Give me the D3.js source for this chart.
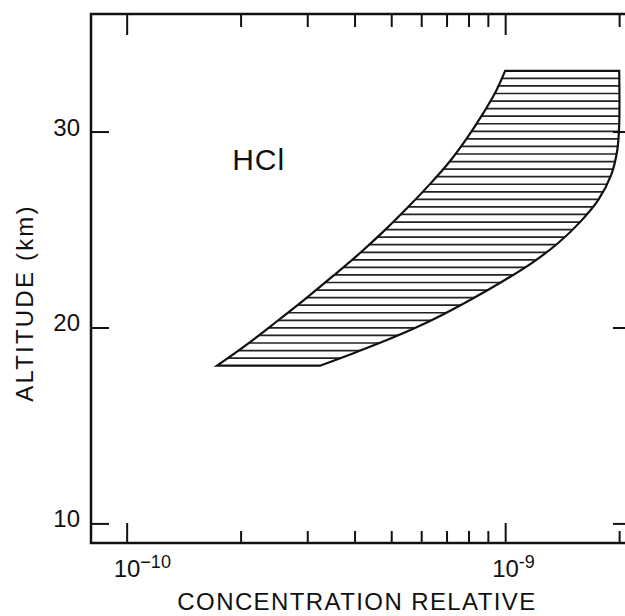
<!DOCTYPE html>
<html>
<head>
<meta charset="utf-8">
<script src="https://cdn.jsdelivr.net/npm/d3@7"></script>
<style>
  body { margin: 0; background: #fff; }
  svg { display: block; }
  text { font-family: "Liberation Sans", Arial, sans-serif; fill: #111; }
</style>
</head>
<body>
<div id="chart"></div>
<script>
// HCl band: left edge (bottom -> top) and right edge (top -> bottom)
const leftAlt  = [18.05, 19.10, 20.28, 21.45, 22.63, 23.80, 24.98, 26.15, 27.33, 28.50, 29.68, 30.85, 31.98, 33.10];
const leftConc = [1.733e-10, 2.067e-10, 2.481e-10, 2.961e-10, 3.511e-10, 4.136e-10, 4.817e-10, 5.541e-10, 6.336e-10, 7.154e-10, 7.935e-10, 8.695e-10, 9.41e-10, 1.0e-9];
const rightAlt  = [33.10, 30.34, 29.06, 27.79, 26.51, 25.39, 24.31, 23.34, 22.37, 21.40, 20.38, 19.51, 18.74, 18.05];
const rightConc = [2.001e-9, 2.001e-9, 1.978e-9, 1.906e-9, 1.762e-9, 1.579e-9, 1.381e-9, 1.186e-9, 9.88e-10, 8.08e-10, 6.41e-10, 5.09e-10, 4.04e-10, 3.24e-10];

const altTicks = [10, 20, 30];
const majorConc = [1e-10, 1e-9];
const minorConc = [2e-10, 3e-10, 4e-10, 5e-10, 6e-10, 7e-10, 8e-10, 9e-10, 2e-9];
const majorLabels = [{ base: "10", exp: "\u221210" }, { base: "10", exp: "-9" }];

const W = 625, H = 616;
const margin = { top: 14, right: -6, bottom: 73, left: 91 };
const width = W - margin.left - margin.right;
const height = H - margin.top - margin.bottom;

const svg = d3.select("#chart").append("svg")
  .attr("width", W)
  .attr("height", H);

const g = svg.append("g").attr("transform", `translate(${margin.left},${margin.top})`);

const x = d3.scaleLog().domain([8.05e-11, 2.15e-9]).range([0, width]);
const y = d3.scaleLinear().domain([9, 36]).range([height, 0]);

// band outline
const line = d3.line().x(d => x(d[0])).y(d => y(d[1])).curve(d3.curveCatmullRom.alpha(0.5));
const leftPts = leftConc.map((c, i) => [c, leftAlt[i]]);
const rightPts = rightConc.map((c, i) => [c, rightAlt[i]]);
const bandPath = line(leftPts) + line(rightPts).replace(/^M/, "L") + "Z";

g.append("clipPath").attr("id", "band")
  .append("path").attr("d", bandPath);

// horizontal hatching
const yTop = y(d3.max(leftAlt)), yBot = y(d3.min(leftAlt));
const step = (yBot - yTop) / 39;
const hatch = d3.range(1, 39).map(i => yTop + i * step);
g.append("g").attr("clip-path", "url(#band)")
  .selectAll("line").data(hatch).enter().append("line")
  .attr("x1", 0).attr("x2", width)
  .attr("y1", d => d).attr("y2", d => d)
  .attr("stroke", "#222").attr("stroke-width", 1.7);

g.append("path")
  .attr("d", bandPath)
  .attr("fill", "none")
  .attr("stroke", "#111")
  .attr("stroke-width", 2.2)
  .attr("stroke-linejoin", "miter");

// ticks via axes (pointing inward)
function styleAxis(sel) {
  sel.select(".domain").remove();
  sel.selectAll(".tick line").attr("stroke", "#111").attr("stroke-width", 2);
  sel.selectAll(".tick text").remove();
}
g.append("g").attr("transform", `translate(0,${height})`)
  .call(d3.axisBottom(x).tickValues(majorConc).tickSize(-20)).call(styleAxis);
g.append("g").attr("transform", `translate(0,${height})`)
  .call(d3.axisBottom(x).tickValues(minorConc).tickSize(-12)).call(styleAxis);
g.append("g")
  .call(d3.axisTop(x).tickValues(majorConc).tickSize(-21)).call(styleAxis);
g.append("g")
  .call(d3.axisTop(x).tickValues(minorConc).tickSize(-13)).call(styleAxis);
g.append("g")
  .call(d3.axisLeft(y).tickValues(altTicks).tickSize(-18)).call(styleAxis);
g.append("g").attr("transform", `translate(${width},0)`)
  .call(d3.axisRight(y).tickValues(altTicks).tickSize(-18)).call(styleAxis);

// frame
g.append("rect")
  .attr("width", width).attr("height", height)
  .attr("fill", "none").attr("stroke", "#111").attr("stroke-width", 2.5);

// y tick labels
g.selectAll(".ylab").data(altTicks).enter().append("text")
  .attr("class", "ylab")
  .attr("x", -11).attr("y", d => y(d) + 4)
  .attr("text-anchor", "end")
  .attr("font-size", 24)
  .text(d => d);

// x tick labels with superscripts
const xl = g.selectAll(".xlab").data(majorConc).enter().append("text")
  .attr("class", "xlab")
  .attr("x", d => x(d) - 13).attr("y", height + 34)
  .attr("font-size", 24);
xl.append("tspan").text((d, i) => majorLabels[i].base);
xl.append("tspan").attr("dy", -9).attr("font-size", 18).text((d, i) => majorLabels[i].exp);

// species label
g.append("text")
  .attr("x", x(1.9e-10)).attr("y", y(28.05))
  .attr("font-size", 30)
  .attr("letter-spacing", 1)
  .text("HCl");

// axis titles
svg.append("text")
  .attr("transform", "translate(33,303) rotate(-90)")
  .attr("text-anchor", "middle")
  .attr("font-size", 24)
  .attr("letter-spacing", 2.2)
  .text("ALTITUDE (km)");

svg.append("text")
  .attr("x", 357).attr("y", 610)
  .attr("text-anchor", "middle")
  .attr("font-size", 24)
  .attr("letter-spacing", 1.4)
  .text("CONCENTRATION RELATIVE");
</script>
</body>
</html>
